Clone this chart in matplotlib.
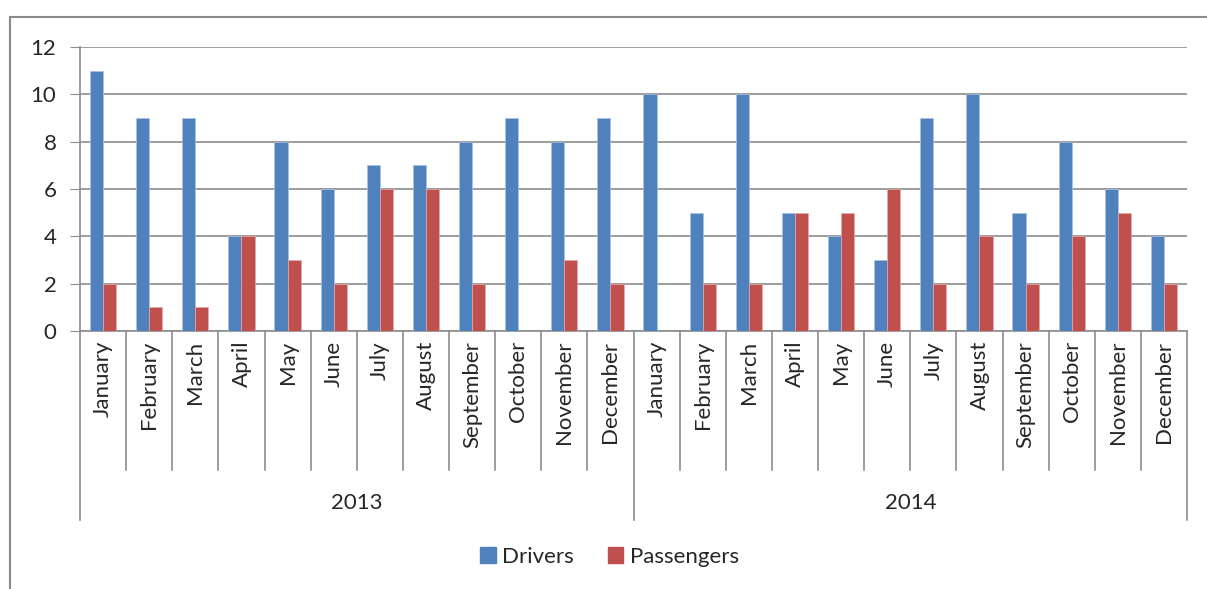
import numpy as np
import matplotlib.pyplot as plt
from matplotlib.patches import Patch
from matplotlib.lines import Line2D

plt.rcParams['font.family'] = ['Lato', 'DejaVu Sans']

months = ["January", "February", "March", "April", "May", "June", "July",
          "August", "September", "October", "November", "December"]
years = ["2013", "2014"]
drivers_2013 = [11, 9, 9, 4, 8, 6, 7, 7, 8, 9, 8, 9]
passengers_2013 = [2, 1, 1, 4, 3, 2, 6, 6, 2, 0, 3, 2]
drivers_2014 = [10, 5, 10, 5, 4, 3, 9, 10, 5, 8, 6, 4]
passengers_2014 = [0, 2, 2, 5, 5, 6, 2, 4, 2, 4, 5, 2]

blue = "#4F81BD"
red = "#C0504D"
grid_col = "#8c8c8c"
text_col = "#262626"

drivers = np.array(drivers_2013 + drivers_2014)
passengers = np.array(passengers_2013 + passengers_2014)
labels = months * len(years)
n = len(labels)
x = np.arange(n)
w = 1 / 3.5

W, H = 1207, 589
fig = plt.figure(figsize=(W / 100, H / 100), dpi=100)
ax = fig.add_axes([80 / W, 1 - 331 / H, 1107 / W, 284 / H])

ax.bar(x - w / 2, drivers, w, color=blue, edgecolor="#a9c3e6", linewidth=0.5, zorder=3)
ax.bar(x + w / 2, passengers, w, color=red, edgecolor="#e6a9a8", linewidth=0.5, zorder=3)

ax.set_xlim(-0.5, n - 0.5)
ax.set_ylim(0, 12)
ax.set_yticks(range(0, 13, 2))
ax.yaxis.grid(True, color=grid_col, linewidth=1.2)
ax.set_axisbelow(True)
ax.tick_params(axis='y', length=7, color=grid_col, labelsize=16, labelcolor=text_col, pad=10)
ax.set_xticks([])
for s in ["top", "right"]:
    ax.spines[s].set_visible(False)
for s in ["left", "bottom"]:
    ax.spines[s].set_color(grid_col)
    ax.spines[s].set_linewidth(1.2)

# month labels and separators
tr = ax.get_xaxis_transform()
month_bottom = -139 / 284
year_bottom = -189 / 284
for i, lab in enumerate(labels):
    ax.text(x[i], -0.035, lab, rotation=90, ha='center', va='top', fontsize=16,
            color=text_col, transform=tr)
for b in np.arange(-0.5, n, 1.0):
    low = year_bottom if (b + 0.5) % 12 == 0 else month_bottom
    ax.plot([b, b], [0, low], color=grid_col, lw=1.2, transform=tr, clip_on=False)

# year labels
for k, yr in enumerate(years):
    ax.text(k * 12 + 5.5, -172 / 284, yr, ha='center', va='center', fontsize=16,
            color=text_col, transform=tr)

handles = [Patch(color=blue, label="Drivers"), Patch(color=red, label="Passengers")]
fig.legend(handles=handles, loc='center', bbox_to_anchor=(0.505, 1 - 557 / H), ncol=2,
           frameon=False, fontsize=16, handlelength=0.7, handleheight=0.7,
           handletextpad=0.3, columnspacing=1.5, labelcolor=text_col)

# outer chart frame
fig.add_artist(Line2D([10 / W, 1], [1 - 17 / H, 1 - 17 / H], color="#8a8a8a", lw=1.5))
fig.add_artist(Line2D([10 / W, 10 / W], [0, 1 - 17 / H], color="#8a8a8a", lw=1.5))

fig.savefig("out.png", dpi=100, facecolor="white")
